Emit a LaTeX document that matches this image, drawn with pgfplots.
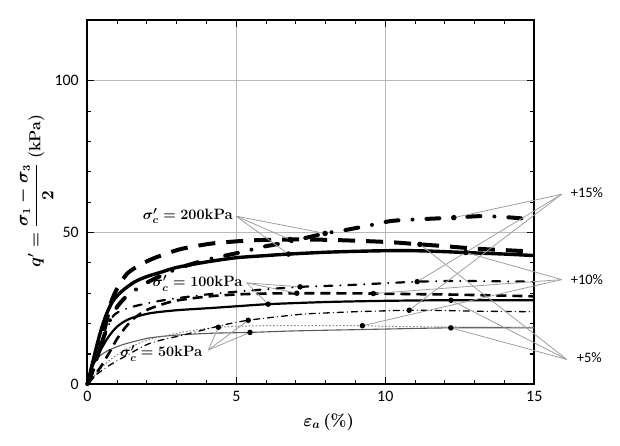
\documentclass[border=0pt]{standalone}
\usepackage{amsmath}
\usepackage{fontspec}
\usepackage{pgfplots}
\pgfplotsset{compat=1.18}
\newfontfamily\calibri{Carlito}
\tikzset{
  lbl/.style={anchor=east, font=\fontsize{15}{18}\selectfont\bfseries\boldmath, inner sep=1bp},
  pct/.style={anchor=west, font=\calibri\fontsize{14.5}{16}\selectfont, inner sep=0bp},
}

% stress-strain curves: q' against axial strain for three confining pressures
\pgfplotstableread{
x y
0 0
0.15 6
0.3 12
0.45 17.5
0.6 22
0.75 25.5
0.9 28
1.2 31
1.6 33.8
2 35.5
2.5 37
3 38.5
4 40.3
5 41.7
6 42.4
6.75 42.9
8 43.5
9 43.8
10 44
11 44
12 43.7
12.7 43.4
14 42.9
15 42.4
}\hiSolid
\pgfplotstableread{
x y
0 0
0.2 5
0.4 11
0.6 19
0.8 27
1.0 31.5
1.34 36.5
1.8 39.5
2.2 41.4
2.7 43.2
3.2 44.7
4.2 46.4
5.5 47.4
6.8 47.7
8 47.6
9 47.3
10.2 46.8
11.16 46.1
12 45.5
13 44.7
14 44.2
15 43.7
}\hiDash
\pgfplotstableread{
x y
0 0
0.2 5
0.4 11
0.6 17
0.8 22
1.0 25.5
1.32 29
2 33.5
3 38
4 41
5.2 43.6
5.9 45.3
6.7 46.8
7.98 49.7
8.65 50.8
9.5 52.4
10.2 53.8
11 54.3
12.3 54.9
13.2 55.4
14 55.1
15 54.3
}\hiDashDot
\pgfplotstableread{
x y
0 0
0.1 3.5
0.2 6.5
0.45 11.3
0.7 15.5
1.0 19
1.4 21.5
2.1 23.4
3 24.4
4.1 25.1
5 25.7
6.07 26.4
8 27.1
10 27.5
12.2 27.7
15 27.7
}\midSolid
\pgfplotstableread{
x y
0 0
0.25 3
0.5 6.5
0.8 11.5
1.0 15
1.3 19
1.6 22
2 24.5
2.5 26.3
3 27.6
4 28.9
5 29.6
6 29.9
7.03 30
8 30
9.6 29.9
11 29.7
12 29.6
13 29.4
14 29.2
15 29
}\midDash
\pgfplotstableread{
x y
0 0
0.15 4
0.3 8.5
0.6 16.5
0.87 22.5
1.2 24.5
1.7 26
2.5 27.6
3.5 29
4.3 29.9
5 30.5
6 31.3
7.14 32.1
8 32.4
9 32.8
10 33.3
11.07 33.8
12 34
13 34
14 33.9
15 33.8
}\midDashDot
\pgfplotstableread{
x y
0 0
0.1 4
0.22 7
0.4 9.2
0.67 11
1 12.4
1.34 13.5
2.1 15.3
3 16.2
4.1 16.8
5.46 17.1
7 17.6
9 18
10 18.2
12.2 18.6
15 18.6
}\loSolid
\pgfplotstableread{
x y
0 0
0.3 3.5
0.7 7.5
1.2 11
2 14.5
3 16.8
4 18.4
4.4 18.8
5 19.1
6 19.3
8 19.3
9.23 19.3
10 19.1
12 18.9
15 18.8
}\loDot
\pgfplotstableread{
x y
0 0
0.22 2.5
0.67 5.8
1.23 9
2.1 13.5
3.2 16.2
4.1 18.4
4.4 19.2
5.4 21.1
7.1 23
8 23.5
9 23.9
10.8 24.4
12 24.3
13 24.1
15 23.9
}\loDashDot

\begin{document}
\begin{tikzpicture}
\begin{axis}[
  scale only axis, width=447bp, height=364.3bp,
  xmin=0, xmax=15, ymin=0, ymax=120,
  xtick={0,5,10,15}, ytick={0,50,100},
  minor x tick num=4, minor y tick num=4,
  grid=major, major grid style={gray!55, line width=0.7bp},
  axis line style={line width=1.8bp},
  tick style={black, line width=1.1bp},
  major tick length=7bp, minor tick length=4bp,
  tick align=inside,
  /pgf/number format/assume math mode=true,
  xticklabel style={font=\calibri\fontsize{16}{18}\selectfont, yshift=-3bp},
  yticklabel style={font=\calibri\fontsize{16}{18}\selectfont, xshift=-5bp},
  clip=false,
  smooth, tension=0.45,
  ann/.style={gray!75, line width=0.8bp, mark=*, mark indices={2},
              mark options={black, solid, fill=black}, mark size=2.3bp, sharp plot},
]
% fixed frame for the whole picture
\path (rel axis cs:-0.1953,-0.1666) rectangle (rel axis cs:1.1917,1.0549);

% 50 kPa
\addplot[gray!70!black, line width=1.1bp] table {\loSolid};
\addplot[gray, line width=1bp, dash pattern=on 1.5bp off 2bp] table {\loDot};
\addplot[black, line width=1.3bp, line cap=round, dash pattern=on 6bp off 4bp on 0bp off 4bp] table {\loDashDot};
% 100 kPa
\addplot[black, line width=2.2bp] table {\midSolid};
\addplot[black, line width=2.6bp, dash pattern=on 10bp off 6bp] table {\midDash};
\addplot[black, line width=2.2bp, line cap=round, dash pattern=on 8bp off 8bp on 0bp off 8bp] table {\midDashDot};
% 200 kPa
\addplot[black, line width=3.4bp] table {\hiSolid};
\addplot[black, line width=4bp, dash pattern=on 17bp off 11bp] table {\hiDash};
\addplot[black, line width=4bp, line cap=round, dash pattern=on 13bp off 14bp on 0bp off 14bp] table {\hiDashDot};

% leader lines from the labels
\addplot[ann] coordinates {(4.99,55.4) (6.8,47.7)};
\addplot[ann] coordinates {(4.99,55.4) (6.75,42.9)};
\addplot[ann] coordinates {(4.99,55.4) (7.98,49.7)};
\addplot[ann] coordinates {(5.35,33.4) (7.14,32.1)};
\addplot[ann] coordinates {(5.35,33.4) (7.03,30)};
\addplot[ann] coordinates {(5.35,33.4) (6.07,26.4)};
\addplot[ann] coordinates {(4.06,11.3) (4.4,18.8)};
\addplot[ann] coordinates {(4.06,11.3) (5.4,21.1)};
\addplot[ann] coordinates {(4.06,11.3) (5.46,17.1)};
\addplot[ann] coordinates {(15.92,62.6) (12.3,54.9)};
\addplot[ann] coordinates {(15.92,62.6) (11.07,33.8)};
\addplot[ann] coordinates {(15.92,62.6) (10.8,24.4)};
\addplot[ann] coordinates {(15.92,34.5) (12.7,43.4)};
\addplot[ann] coordinates {(15.92,34.5) (9.6,29.9)};
\addplot[ann] coordinates {(15.92,34.5) (9.23,19.3)};
\addplot[ann] coordinates {(16.09,8.2) (11.16,46.1)};
\addplot[ann] coordinates {(16.09,8.2) (12.2,27.7)};
\addplot[ann] coordinates {(16.09,8.2) (12.2,18.6)};

\node[lbl] at (axis cs:4.92,55.4) {$\sigma_c' = 200$kPa};
\node[lbl] at (axis cs:5.25,33.3) {$\sigma_c' = 100$kPa};
\node[lbl] at (axis cs:3.9,10.2) {$\sigma_c' = 50$kPa};

\node[pct] at (axis cs:16.22,63.0) {+15\%};
\node[pct] at (axis cs:16.22,34.6) {+10\%};
\node[pct] at (axis cs:16.42,8.65) {+5\%};

\node[rotate=90, font=\fontsize{16}{19}\selectfont\boldmath] at (rel axis cs:-0.117,0.53)
  {$q' = \dfrac{\sigma_1 - \sigma_3}{2}$ \textbf{(kPa)}};
\node[font=\fontsize{17}{20}\selectfont\boldmath] at (rel axis cs:0.54,-0.103) {$\varepsilon_a$\,\textbf{(\%)}};
\end{axis}
\end{tikzpicture}
\end{document}
